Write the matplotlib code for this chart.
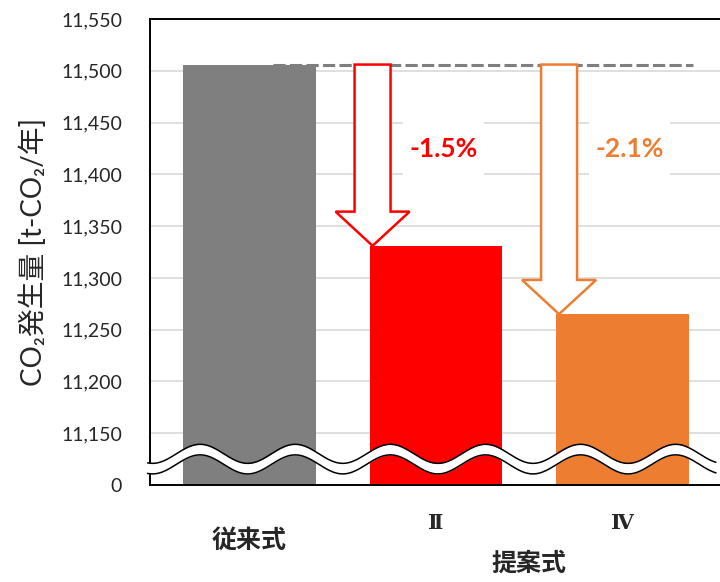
import numpy as np
import matplotlib.pyplot as plt
import matplotlib.patches as mpatches
from matplotlib.transforms import blended_transform_factory

plt.rcParams['font.family'] = ['Lato', 'Noto Sans CJK JP', 'DejaVu Sans']

# CO2 emissions per case [t-CO2/year]
cases = ['従来式', 'Ⅱ', 'Ⅳ']
emissions = [11506, 11331, 11265]
bar_colors = ['#7F7F7F', '#FF0000', '#ED7D31']
reduction_labels = ['-1.5%', '-2.1%']

y_ticks = [11100, 11150, 11200, 11250, 11300, 11350, 11400, 11450, 11500, 11550]
y_tick_labels = ['0', '11,150', '11,200', '11,250', '11,300', '11,350',
                 '11,400', '11,450', '11,500', '11,550']

fig = plt.figure(figsize=(7.2, 5.82), dpi=100)
ax = fig.add_axes([150 / 720, 1 - 485 / 582, 570 / 720, 466 / 582])

x = np.arange(len(cases))
ax.bar(x, emissions, width=0.71, color=bar_colors, zorder=2)

ax.set_xlim(-0.5335, 2.523)
ax.set_ylim(y_ticks[0], y_ticks[-1])
ax.set_yticks(y_ticks)
ax.set_yticklabels(y_tick_labels)
ax.set_xticks([])
ax.tick_params(axis='y', length=0, pad=20, labelsize=14, labelcolor='#262626')
ax.yaxis.grid(True, color='#D9D9D9', lw=1.2, zorder=0)
ax.set_axisbelow(True)

for side in ['left', 'bottom', 'top']:
    ax.spines[side].set_linewidth(1.4)
    ax.spines[side].set_color('black')
ax.spines['right'].set_visible(False)

ax.set_ylabel('CO₂発生量 [t-CO₂/年]', fontsize=20, color='#262626', labelpad=10)

# baseline (conventional) dashed line
base = emissions[0]
ax.plot([0.126, 2.378], [base, base], color='#7F7F7F', lw=2.2,
        linestyle=(0, (4, 1.4)), zorder=3)

# reduction arrows and percentage labels
for i, (val, col, lab) in enumerate(zip(emissions[1:], bar_colors[1:], reduction_labels), start=1):
    ax_x = i - 0.34
    arrow = mpatches.FancyArrow(ax_x, base, 0, val - base, width=0.193,
                                head_width=0.397, head_length=33,
                                length_includes_head=True, fc='white',
                                ec=col, lw=1.8, zorder=4)
    ax.add_patch(arrow)
    tx, ty = i + 0.04, 11424
    ax.add_patch(mpatches.Rectangle((tx - 0.217, ty - 34), 0.434, 68,
                                    fc='white', ec='none', zorder=3))
    ax.text(tx, ty, lab, color=col, fontsize=19, fontweight='bold',
            ha='center', va='center', zorder=5)

# axis break wave
wx = np.linspace(-0.545, 2.50, 500)
wc = 11125 + 9.2 * np.cos(2 * np.pi * (wx + 0.265) / 0.51)
ax.fill_between(wx, wc - 5.1, wc + 5.1, color='white', lw=0, zorder=6, clip_on=False)
ax.plot(wx, wc + 5.1, color='black', lw=1.1, zorder=7, clip_on=False)
ax.plot(wx, wc - 5.1, color='black', lw=1.1, zorder=7, clip_on=False)

# category labels
trans = blended_transform_factory(ax.transData, ax.transAxes)
ax.text(0, -0.118, cases[0], transform=trans, ha='center', va='center',
        fontsize=18, fontweight='bold', color='#262626')
for i in (1, 2):
    ax.text(i, -0.0815, cases[i], transform=trans, ha='center', va='center',
            fontsize=15, fontweight='bold', color='#262626',
            family=['DejaVu Serif'])
ax.text(1.5, -0.167, '提案式', transform=trans, ha='center', va='center',
        fontsize=18, fontweight='bold', color='#262626')

fig.savefig('out.png', dpi=100)
